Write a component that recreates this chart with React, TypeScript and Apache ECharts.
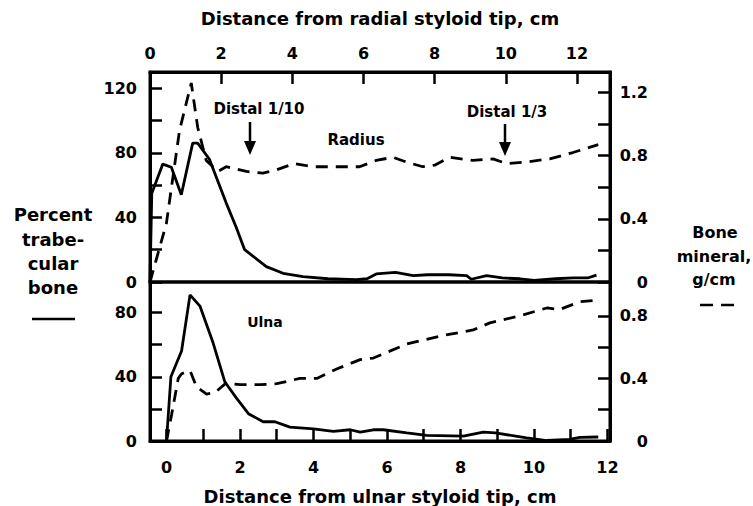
import React, { useEffect, useRef } from "react";
import * as echarts from "echarts";

// ---------- data ----------
// Radius (top panel), x = distance from radial styloid tip, cm
const radiusTrabX = [0, 0.05, 0.36, 0.6, 0.88, 1.2, 1.34, 1.67, 2.14, 2.42, 2.66, 3.27, 3.74, 4.3, 5.0, 5.8, 6.1, 6.36, 6.9, 7.4, 7.8, 8.4, 8.9, 9.03, 9.46, 9.9, 10.4, 10.8, 11.4, 11.9, 12.3, 12.55];
const radiusTrabY = [0, 55, 73, 71, 54, 86, 86, 76, 49, 34, 20, 9.5, 5.4, 3.3, 2, 1.5, 2, 5, 6, 4, 4.5, 4.5, 4, 1.7, 4, 2.5, 2, 1, 2, 2.5, 2.5, 4.3];
const radiusBmX = [0, 0.46, 0.83, 1.16, 1.34, 1.58, 1.91, 2.14, 2.71, 3.17, 3.55, 4.06, 4.58, 5.33, 5.89, 6.36, 6.83, 7.2, 7.67, 8.0, 8.42, 9.08, 9.64, 10.02, 10.58, 11.24, 11.89, 12.6];
const radiusBmY = [0, 0.37, 0.96, 1.26, 0.98, 0.77, 0.7, 0.73, 0.7, 0.69, 0.71, 0.75, 0.73, 0.73, 0.73, 0.77, 0.79, 0.76, 0.73, 0.74, 0.79, 0.77, 0.78, 0.75, 0.76, 0.78, 0.82, 0.87];

// Ulna (bottom panel), x = distance from ulnar styloid tip, cm
const ulnaTrabX = [0, 0.12, 0.41, 0.64, 0.91, 1.27, 1.59, 1.91, 2.23, 2.63, 2.95, 3.36, 4.0, 4.54, 5.0, 5.27, 5.63, 5.9, 6.54, 7.08, 8.08, 8.62, 8.95, 9.8, 10.35, 10.97, 11.25, 11.75];
const ulnaTrabY = [0, 40, 56, 91, 84, 61, 36.7, 26.5, 17, 12, 12, 8.6, 7.6, 6, 7, 5.5, 7, 7, 5, 3.5, 3, 5.5, 5, 2, 0.3, 1, 2.3, 2.5];
const ulnaBmX = [0, 0.14, 0.32, 0.41, 0.64, 0.82, 1.09, 1.32, 1.62, 2.0, 2.54, 3.0, 3.63, 4.09, 4.63, 5.27, 5.63, 6.54, 7.44, 8.35, 8.8, 9.62, 10.35, 10.7, 11.25, 11.75];
const ulnaBmY = [0, 0.17, 0.4, 0.43, 0.45, 0.345, 0.3, 0.31, 0.37, 0.36, 0.36, 0.366, 0.4, 0.4, 0.46, 0.52, 0.53, 0.62, 0.67, 0.71, 0.755, 0.8, 0.85, 0.84, 0.89, 0.9];

// ticks
const topXLabels = [0, 2, 4, 6, 8, 10, 12];
const bottomXTicks = [0, 1, 2, 3, 4, 5, 6, 7, 8, 9, 10, 11, 12];
const bottomXLabels = [0, 2, 4, 6, 8, 10, 12];
const topLeftTicks = [0, 20, 40, 60, 80, 100, 120];
const topLeftLabels = [0, 40, 80, 120];
const topRightTicks = [0, 0.2, 0.4, 0.6, 0.8, 1.0, 1.2];
const topRightLabels = [0, 0.4, 0.8, 1.2];
const botLeftTicks = [0, 20, 40, 60, 80];
const botLeftLabels = [0, 40, 80];
const botRightTicks = [0, 0.2, 0.4, 0.6, 0.8];
const botRightLabels = [0, 0.4, 0.8];

const FONT = "'DejaVu Sans', 'Liberation Sans', Arial, sans-serif";
const BLACK = "#000";

const zip = (xs: number[], ys: number[]) => xs.map((x, i) => [x, ys[i]]);

const fmt = (v: number) => (v === 0 ? "0" : v.toFixed(1));

function txt(size: number) {
  return {
    fill: BLACK,
    fontFamily: FONT,
    fontWeight: "bold",
    fontSize: size,
    align: "center",
    verticalAlign: "middle",
  } as any;
}

function App() {
  const ref = useRef<HTMLDivElement>(null);
  useEffect(() => {
    if (!ref.current) return;
    const chart = echarts.init(ref.current, null, { renderer: "svg" });
    const lblStyle = { color: BLACK, fontFamily: FONT, fontWeight: "bold" as const, fontSize: 16 };
    const axLine = { show: true, onZero: false, lineStyle: { color: BLACK, width: 3 } };
    const tick = (vals: number[]) => ({
      show: true,
      inside: true,
      length: 12,
      customValues: vals,
      lineStyle: { color: BLACK, width: 2.5 },
    });
    const solid = { color: BLACK, width: 2.8, type: "solid" as const };
    const dashed = { color: BLACK, width: 2.8, type: [12, 8] as any };

    const option: any = {
      animation: false,
      backgroundColor: "#fff",
      grid: [
        { left: 150, right: 143, top: 72, height: 210, show: true, borderColor: BLACK, borderWidth: 3, backgroundColor: "transparent" },
        { left: 150, right: 143, top: 282, height: 161, show: true, borderColor: BLACK, borderWidth: 3, backgroundColor: "transparent" },
      ],
      xAxis: [
        {
          type: "value", gridIndex: 0, position: "top", min: 0, max: 12.93,
          axisLine: axLine, axisTick: tick(topXLabels),
          axisLabel: { ...lblStyle, customValues: topXLabels, margin: 11 },
          splitLine: { show: false },
          name: "Distance from radial styloid tip, cm", nameLocation: "middle", nameGap: 45,
          nameTextStyle: { ...lblStyle, fontSize: 18 },
        },
        {
          type: "value", gridIndex: 1, position: "bottom", min: -0.449, max: 12.07,
          axisLine: axLine, axisTick: tick(bottomXTicks),
          axisLabel: { ...lblStyle, customValues: bottomXLabels, margin: 18 },
          splitLine: { show: false },
          name: "Distance from ulnar styloid tip, cm", nameLocation: "middle", nameGap: 46,
          nameTextStyle: { ...lblStyle, fontSize: 18 },
        },
      ],
      yAxis: [
        {
          type: "value", gridIndex: 0, position: "left", min: 0, max: 130,
          axisLine: axLine, axisTick: tick(topLeftTicks),
          axisLabel: { ...lblStyle, customValues: topLeftLabels, margin: 13 },
          splitLine: { show: false },
        },
        {
          type: "value", gridIndex: 0, position: "right", min: 0, max: 1.33,
          axisLine: axLine, axisTick: tick(topRightTicks),
          axisLabel: { ...lblStyle, customValues: topRightLabels, margin: 38, align: "right", formatter: fmt },
          splitLine: { show: false },
        },
        {
          type: "value", gridIndex: 1, position: "left", min: 0, max: 99,
          axisLine: axLine, axisTick: tick(botLeftTicks),
          axisLabel: { ...lblStyle, customValues: botLeftLabels, margin: 13 },
          splitLine: { show: false },
        },
        {
          type: "value", gridIndex: 1, position: "right", min: 0, max: 1.016,
          axisLine: axLine, axisTick: tick(botRightTicks),
          axisLabel: { ...lblStyle, customValues: botRightLabels, margin: 38, align: "right", formatter: fmt },
          splitLine: { show: false },
        },
      ],
      series: [
        { name: "Radius trabecular", type: "line", xAxisIndex: 0, yAxisIndex: 0, data: zip(radiusTrabX, radiusTrabY), showSymbol: false, lineStyle: solid },
        { name: "Radius bone mineral", type: "line", xAxisIndex: 0, yAxisIndex: 1, data: zip(radiusBmX, radiusBmY), showSymbol: false, lineStyle: dashed },
        { name: "Ulna trabecular", type: "line", xAxisIndex: 1, yAxisIndex: 2, data: zip(ulnaTrabX, ulnaTrabY), showSymbol: false, lineStyle: solid },
        { name: "Ulna bone mineral", type: "line", xAxisIndex: 1, yAxisIndex: 3, data: zip(ulnaBmX, ulnaBmY), showSymbol: false, lineStyle: dashed },
      ],
      graphic: [
        // annotations
        { type: "text", x: 259, y: 109, style: { text: "Distal 1/10", ...txt(15) } },
        { type: "line", shape: { x1: 250, y1: 122, x2: 250, y2: 144 }, style: { stroke: BLACK, lineWidth: 2.5 } },
        { type: "polygon", shape: { points: [[244, 141], [256, 141], [250, 155]] }, style: { fill: BLACK } },
        { type: "text", x: 507, y: 112, style: { text: "Distal 1/3", ...txt(15) } },
        { type: "line", shape: { x1: 505, y1: 124, x2: 505, y2: 145 }, style: { stroke: BLACK, lineWidth: 2.5 } },
        { type: "polygon", shape: { points: [[499, 142], [511, 142], [505, 156]] }, style: { fill: BLACK } },
        { type: "text", x: 356, y: 140, style: { text: "Radius", ...txt(15) } },
        { type: "text", x: 265, y: 322, style: { text: "Ulna", ...txt(14) } },
        // left axis title
        { type: "text", x: 53, y: 214, style: { text: "Percent", ...txt(18) } },
        { type: "text", x: 53, y: 239, style: { text: "trabe-", ...txt(18) } },
        { type: "text", x: 53, y: 263, style: { text: "cular", ...txt(18) } },
        { type: "text", x: 53, y: 287, style: { text: "bone", ...txt(18) } },
        { type: "line", shape: { x1: 32, y1: 319, x2: 75, y2: 319 }, style: { stroke: BLACK, lineWidth: 2.5 } },
        // right axis title
        { type: "text", x: 715, y: 232, style: { text: "Bone", ...txt(16) } },
        { type: "text", x: 714, y: 256, style: { text: "mineral,", ...txt(16) } },
        { type: "text", x: 714, y: 279, style: { text: "g/cm", ...txt(16) } },
        { type: "line", shape: { x1: 700, y1: 305, x2: 713, y2: 305 }, style: { stroke: BLACK, lineWidth: 2.5 } },
        { type: "line", shape: { x1: 721, y1: 305, x2: 734, y2: 305 }, style: { stroke: BLACK, lineWidth: 2.5 } },
      ],
    };
    chart.setOption(option);
    return () => chart.dispose();
  }, []);
  return (
    <div
      ref={ref}
      style={{ position: "fixed", left: 0, top: 0, width: 753, height: 506, background: "#fff" }}
    />
  );
}

export default App;
